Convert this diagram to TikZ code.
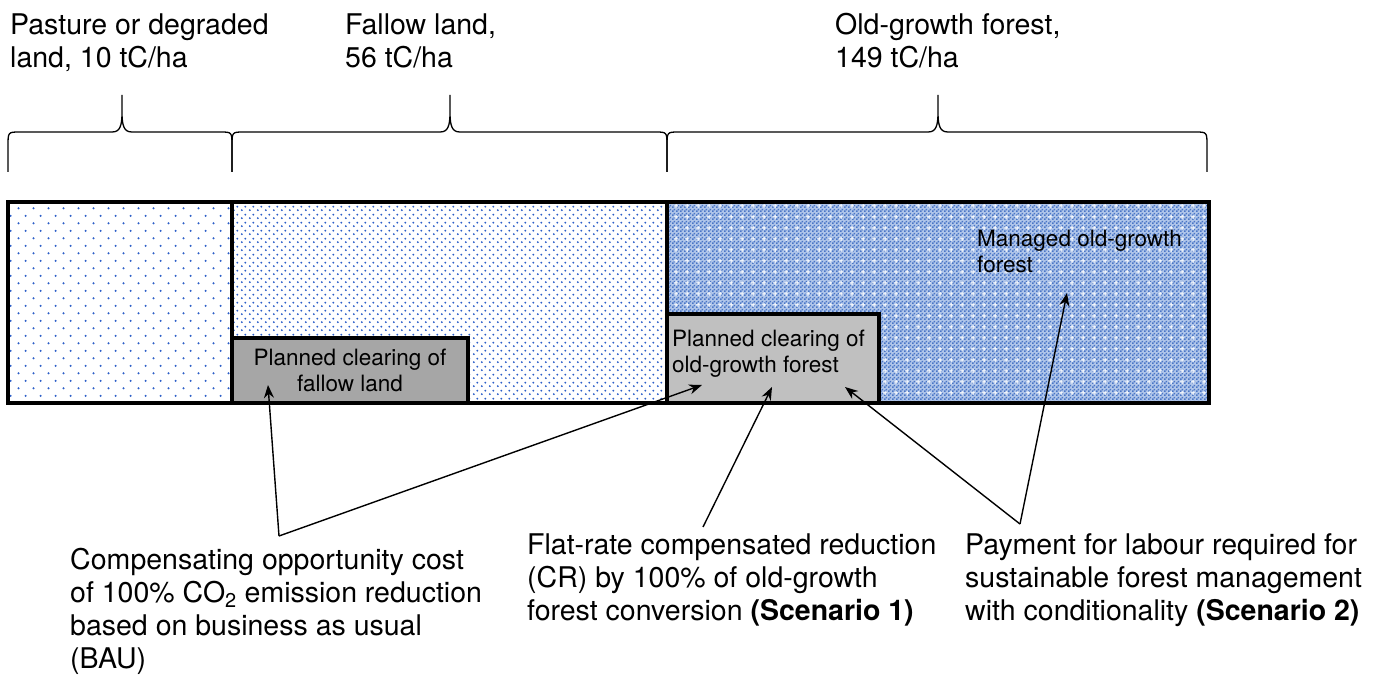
\documentclass[tikz,border=0pt]{standalone}
\usepackage{fontspec}
\setmainfont{TeX Gyre Heros}
\usetikzlibrary{arrows.meta,patterns.meta}

\definecolor{dotblue}{RGB}{45,95,200}
\definecolor{paleblue}{RGB}{176,198,234}
\definecolor{checkblue}{RGB}{74,118,198}
\definecolor{clearfal}{RGB}{166,166,166}
\definecolor{clearold}{RGB}{192,192,192}

\tikzdeclarepattern{name=sparsedots, type=uncolored,
  bounding box={(0pt,0pt) and (15pt,15.4pt)}, tile size={(15pt,15.4pt)},
  code={\fill (3.75pt,3.85pt) circle (1.25pt); \fill (11.25pt,11.55pt) circle (1.25pt);}}
\tikzdeclarepattern{name=densedots, type=uncolored,
  bounding box={(0pt,0pt) and (8pt,8pt)}, tile size={(8pt,8pt)},
  code={\fill (2pt,2pt) circle (1.15pt); \fill (6pt,6pt) circle (1.15pt);}}
\tikzdeclarepattern{name=checker, type=uncolored,
  bounding box={(0pt,0pt) and (4pt,4pt)}, tile size={(4pt,4pt)},
  code={\fill (0pt,0pt) rectangle (2pt,2pt); \fill (2pt,2pt) rectangle (4pt,4pt);}}
\tikzdeclarepattern{name=whitecross, type=uncolored,
  bounding box={(0pt,0pt) and (11pt,11pt)}, tile size={(11pt,11pt)},
  code={\fill (3.5pt,5pt) rectangle (7.5pt,6pt); \fill (5pt,3.5pt) rectangle (6pt,7.5pt);}}

\begin{document}
\begin{tikzpicture}[x=1pt,y=-1pt,>={Stealth[length=13pt,width=10pt]},
 lab/.style={font=\fontsize{28.5}{33}\selectfont,align=left,inner sep=0pt,anchor=base west},
 boxlab/.style={font=\fontsize{22.5}{26.5}\selectfont,align=left,inner sep=0pt,anchor=base west},
 area/.style={draw,line width=4pt},
 clearbox/.style={draw,line width=4.5pt},
 arr/.style={->,line width=1.4pt}]
\useasboundingbox (0,0) rectangle (1387,684);

% land type labels and braces (anchor = last line)
\node[lab] (pasture) at (10,68) {Pasture or degraded\\land, 10 tC/ha};
\node[lab] (fallow) at (345,68) {Fallow land,\\56 tC/ha};
\node[lab] (oldgrowth) at (835,68) {Old-growth forest,\\149 tC/ha};
\foreach \xa/\xm/\xb in {8/122/232, 232/450/667, 667/938/1207}
  \draw[line width=1.3pt] (\xa,172) -- (\xa,146) .. controls (\xa,132) .. (\xa+12,132)
    -- (\xm-10,132) .. controls (\xm-2,132) and (\xm,126) .. (\xm,112) -- (\xm,95)
    -- (\xm,112) .. controls (\xm,126) and (\xm+2,132) .. (\xm+10,132)
    -- (\xb-12,132) .. controls (\xb,132) .. (\xb,146) -- (\xb,172);

% land areas
\fill[pattern=sparsedots,pattern color=dotblue] (8,202) rectangle (232,403);
\fill[pattern=densedots,pattern color=dotblue] (232,202) rectangle (667,403);
\fill[paleblue] (667,202) rectangle (1209,403);
\fill[pattern=checker,pattern color=checkblue] (667,202) rectangle (1209,403);
\fill[pattern=whitecross,pattern color=white] (667,202) rectangle (1209,403);
\draw[area] (8,202) rectangle (1209,403);
\draw[area] (232,202) -- (232,403);
\draw[area] (667,202) -- (667,403);
\draw[clearbox,fill=clearfal] (232,338) rectangle (468,403);
\draw[clearbox,fill=clearold] (667,314) rectangle (879,403);

\node[boxlab,align=center,anchor=base] (clearfallow) at (350,392) {Planned clearing of\\fallow land};
\node[boxlab] (clearforest) at (672,373) {Planned clearing of\\old-growth forest};
\node[boxlab] (managed) at (977,273) {Managed old-growth\\forest};

% payment schemes
\node[lab] (compens) at (70,668) {Compensating opportunity cost\\of 100\% CO\textsubscript{2} emission reduction\\based on business as usual\\(BAU)};
\node[lab] (flatrate) at (527,620) {Flat-rate compensated reduction\\(CR) by 100\% of old-growth\\forest conversion \textbf{(Scenario 1)}};
\node[lab] (payment) at (965,620) {Payment for labour required for\\sustainable forest management\\with conditionality \textbf{(Scenario 2)}};

\coordinate (compv) at (279,536);
\coordinate (flatv) at (703,527);
\coordinate (payv) at (1020,524);
\coordinate (tipfal) at (268,385);
\coordinate (tipold) at (702,385);
\coordinate (tipmid) at (772,387);
\coordinate (tipright) at (845,387);
\coordinate (tipman) at (1067,293);
\draw[arr] (compv) -- (tipfal);
\draw[arr] (compv) -- (tipold);
\draw[arr] (flatv) -- (tipmid);
\draw[arr] (payv) -- (tipright);
\draw[arr] (payv) -- (tipman);
\end{tikzpicture}
\end{document}
